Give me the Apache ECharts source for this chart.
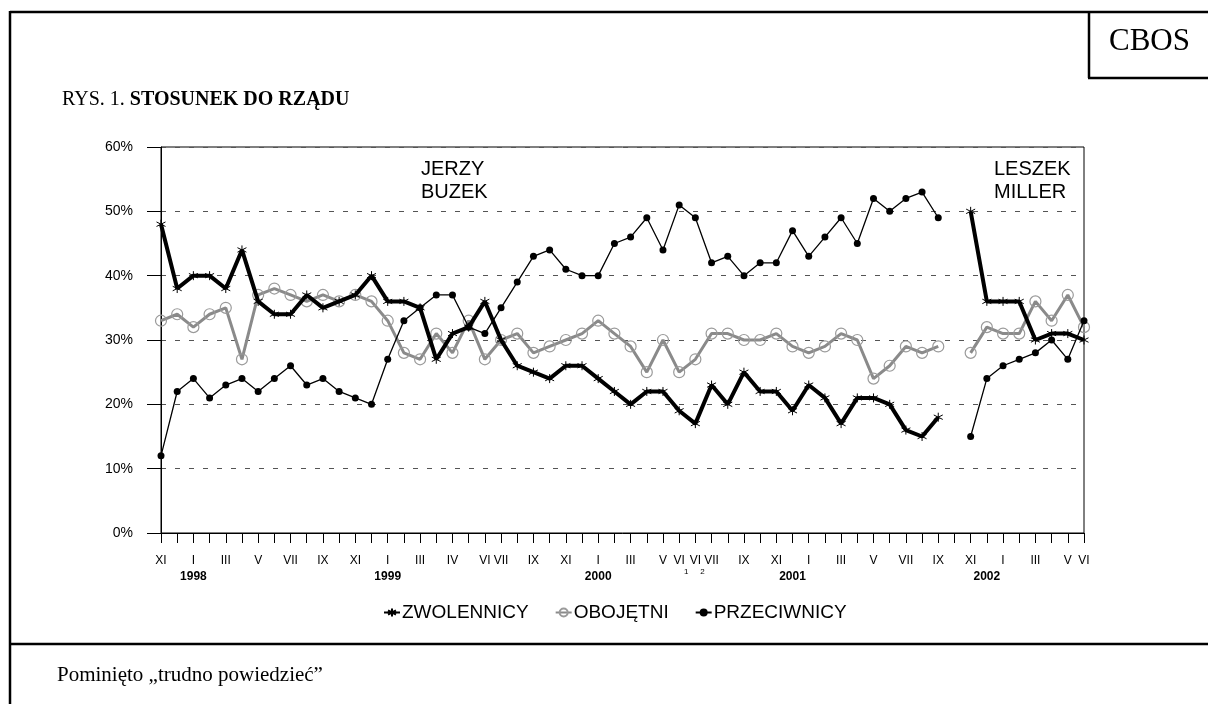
<!DOCTYPE html>
<html><head><meta charset="utf-8">
<script src="https://cdn.jsdelivr.net/npm/echarts@6/dist/echarts.min.js"></script>
<style>html,body{margin:0;padding:0;background:#fff}#c{width:1208px;height:704px}</style>
</head><body><div id="c"></div>
<script>
// survey dates (month of survey), XI 1997 .. VI 2002
const categories = [
 '1997-XI','1997-XII',
 '1998-I','1998-II','1998-III','1998-IV','1998-V','1998-VI','1998-VII','1998-VIII','1998-IX','1998-X','1998-XI','1998-XII',
 '1999-I','1999-II','1999-III','1999-IIIb','1999-IV','1999-V','1999-VI','1999-VII','1999-VIII','1999-IX','1999-X','1999-XI','1999-XII',
 '2000-I','2000-II','2000-III','2000-IV','2000-V','2000-VI1','2000-VI2','2000-VII','2000-VIII','2000-IX','2000-X','2000-XI','2000-XII',
 '2001-I','2001-II','2001-III','2001-IV','2001-V','2001-VI','2001-VII','2001-VIII','2001-IX','2001-X','2001-XI','2001-XII',
 '2002-I','2002-II','2002-III','2002-IV','2002-V','2002-VI'
];
// tick labels shown under the axis ('' = tick without label)
const monthTickLabels = [
 'XI','',
 'I','','III','','V','','VII','','IX','','XI','',
 'I','','III','','IV','','VI','VII','','IX','','XI','',
 'I','','III','','V','VI1','VI2','VII','','IX','','XI','',
 'I','','III','','V','','VII','','IX','','XI','',
 'I','','III','','V','VI'
];
const yearTickLabels = [
 '','',
 '1998','','','','','','','','','','','',
 '1999','','','','','','','','','','','','',
 '2000','','','','','','','','','','','',
 '2001','','','','','','','','','','','',
 '2002','','','','',''
];
const yTicks = [0,10,20,30,40,50,60];

const zwolennicy = [48,38,40,40,38,44,36,34,34,37,35,36,37,40,36,36,35,27,31,32,36,30,26,25,24,26,26,24,22,20,22,22,19,17,23,20,25,22,22,19,23,21,17,21,21,20,16,15,18,null,50,36,36,36,30,31,31,30];
const obojetni   = [33,34,32,34,35,27,37,38,37,36,37,36,37,36,33,28,27,31,28,33,27,30,31,28,29,30,31,33,31,29,25,30,25,27,31,31,30,30,31,29,28,29,31,30,24,26,29,28,29,null,28,32,31,31,36,33,37,32];
const przeciwnicy= [12,22,24,21,23,24,22,24,26,23,24,22,21,20,27,33,35,37,37,32,31,35,39,43,44,41,40,40,45,46,49,44,51,49,42,43,40,42,42,47,43,46,49,45,52,50,52,53,49,null,15,24,26,27,28,30,27,33];

const seriesNames = ['ZWOLENNICY','OBOJĘTNI','PRZECIWNICY'];

const chart = echarts.init(document.getElementById('c'), null, {renderer:'canvas'});
const sans = 'Liberation Sans, Arial, sans-serif';
const serif = 'Liberation Serif, Times New Roman, serif';

function fmtX(value, index) {
  let m = monthTickLabels[index];
  let y = yearTickLabels[index];
  let s;
  if (m === 'VI1') s = 'VI\n{s|1}';
  else if (m === 'VI2') s = 'VI\n{s|2}';
  else s = m;
  if (y) s = s + '\n{y|' + y + '}';
  return s;
}

const starPath = 'path://M5 0L5 10M0 2.5L10 7.5M0 7.5L10 2.5';

chart.setOption({
  animation: false,
  backgroundColor: '#fff',
  title: {
    text: '{a|RYS. 1. }{b|STOSUNEK DO RZĄDU}',
    left: 57, top: 85,
    textStyle: {
      fontWeight: 'normal',
      rich: {
        a: {fontFamily: serif, fontSize: 20, fontWeight: 'normal', color: '#000'},
        b: {fontFamily: serif, fontSize: 20, fontWeight: 'bold', color: '#000'}
      }
    }
  },
  legend: {
    data: seriesNames,
    left: 378,
    top: 598,
    itemWidth: 16,
    itemHeight: 10,
    itemGap: 26,
    textStyle: {fontFamily: sans, fontSize: 19, color: '#000', padding: [0,0,0,-3]}
  },
  grid: {
    left: 161, right: 124, top: 147, bottom: 171,
    show: true, borderColor: '#000', borderWidth: 1, containLabel: false
  },
  xAxis: {
    type: 'category',
    data: categories,
    boundaryGap: false,
    axisLine: {lineStyle: {color: '#000', width: 1}},
    axisTick: {show: true, interval: 0, length: 10, lineStyle: {color: '#000'}},
    axisLabel: {
      interval: 0, margin: 20, fontFamily: sans, fontSize: 12, color: '#000', lineHeight: 16,
      formatter: fmtX,
      rich: {
        y: {fontFamily: sans, fontSize: 12, fontWeight: 'bold', color: '#000', lineHeight: 16},
        s: {fontFamily: sans, fontSize: 8, color: '#000', lineHeight: 6, padding: [0,0,0,14]}
      }
    },
    splitLine: {show: false}
  },
  yAxis: {
    type: 'value',
    min: yTicks[0], max: yTicks[yTicks.length-1], interval: 10,
    axisLine: {show: true, lineStyle: {color: '#000', width: 1}},
    axisTick: {show: true, length: 14, lineStyle: {color: '#000'}},
    axisLabel: {formatter: '{value}%', fontFamily: sans, fontSize: 14, color: '#000', margin: 28},
    splitLine: {show: true, lineStyle: {color: '#555', type: [5, 9], width: 1}}
  },
  series: [
    {
      name: seriesNames[0], type: 'line', data: zwolennicy, z: 3,
      connectNulls: false,
      symbol: starPath, symbolSize: 9, showAllSymbol: true,
      lineStyle: {color: '#000', width: 4},
      itemStyle: {color: '#000', borderColor: '#000', borderWidth: 1}
    },
    {
      name: seriesNames[1], type: 'line', data: obojetni, z: 2,
      connectNulls: false,
      symbol: 'circle', symbolSize: 11, showAllSymbol: true,
      lineStyle: {color: '#8a8a8a', width: 3},
      itemStyle: {color: 'rgba(255,255,255,0)', borderColor: '#9a9a9a', borderWidth: 1.2}
    },
    {
      name: seriesNames[2], type: 'line', data: przeciwnicy, z: 4,
      connectNulls: false,
      symbol: 'circle', symbolSize: 7, showAllSymbol: true,
      lineStyle: {color: '#000', width: 1.3},
      itemStyle: {color: '#000'}
    }
  ],
  graphic: [
    {type: 'line', shape: {x1: 10, y1: 12, x2: 1208, y2: 12}, style: {stroke: '#000', lineWidth: 2.5}, silent: true},
    {type: 'line', shape: {x1: 10, y1: 11, x2: 10, y2: 704}, style: {stroke: '#000', lineWidth: 2.5}, silent: true},
    {type: 'line', shape: {x1: 10, y1: 644, x2: 1208, y2: 644}, style: {stroke: '#000', lineWidth: 2.5}, silent: true},
    {type: 'line', shape: {x1: 1089, y1: 12, x2: 1089, y2: 78}, style: {stroke: '#000', lineWidth: 2.5}, silent: true},
    {type: 'line', shape: {x1: 1088, y1: 78, x2: 1208, y2: 78}, style: {stroke: '#000', lineWidth: 2.5}, silent: true},
    {type: 'text', left: 1109, top: 26, style: {text: 'CBOS', font: '31px ' + serif, fill: '#000'}},
    {type: 'text', left: 421, top: 158, style: {text: 'JERZY\nBUZEK', font: '20px ' + sans, lineHeight: 23, fill: '#000'}},
    {type: 'text', left: 994, top: 158, style: {text: 'LESZEK\nMILLER', font: '20px ' + sans, lineHeight: 23, fill: '#000'}},
    {type: 'text', left: 57, top: 665, style: {text: 'Pominięto „trudno powiedzieć”', font: '21px ' + serif, fill: '#000'}}
  ]
});
</script>
</body></html>
